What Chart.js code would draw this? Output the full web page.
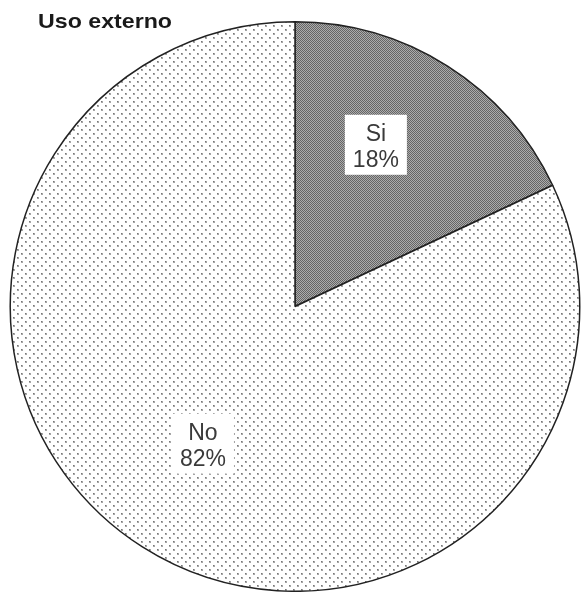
<!DOCTYPE html>
<html>
<head>
<meta charset="utf-8">
<script src="https://cdn.jsdelivr.net/npm/chart.js@4.4.0/dist/chart.umd.min.js"></script>
<style>
  html, body { margin: 0; padding: 0; background: #ffffff; }
  #wrap { width: 581px; height: 592px; position: relative; }
</style>
</head>
<body>
<div id="wrap"><canvas id="c" width="581" height="592"></canvas></div>
<script>
const chartTitle = "Uso externo";
const categories = ["Si", "No"];
const percentages = [18, 82];

// label placement within each slice (fraction of angular span, fraction of radius)
const labelPlacement = [{ a: 0.41, r: 0.635 }, { a: 0.505, r: 0.58 }];

function makeCheckerPattern() {
  const c = document.createElement("canvas");
  c.width = 2; c.height = 2;
  const x = c.getContext("2d");
  x.fillStyle = "#acacac"; x.fillRect(0, 0, 2, 2);
  x.fillStyle = "#656565"; x.fillRect(0, 0, 1, 1); x.fillRect(1, 1, 1, 1);
  return x.createPattern(c, "repeat");
}
function makeDotPattern() {
  const c = document.createElement("canvas");
  c.width = 8; c.height = 8;
  const x = c.getContext("2d");
  x.fillStyle = "#ffffff"; x.fillRect(0, 0, 8, 8);
  x.fillStyle = "#a6a6a6";
  x.fillRect(1, 1, 2, 2); x.fillRect(5, 5, 2, 2);
  x.fillStyle = "#777777";
  x.fillRect(1, 1, 1, 1); x.fillRect(5, 5, 1, 1);
  return x.createPattern(c, "repeat");
}

const titlePlugin = {
  id: "customTitle",
  afterDraw(chart) {
    const ctx = chart.ctx;
    ctx.save();
    ctx.fillStyle = "#1a1a1a";
    ctx.font = "bold 21px 'Liberation Sans Narrow', 'Liberation Sans', Arial, sans-serif";
    ctx.textBaseline = "middle";
    ctx.textAlign = "left";
    const w = ctx.measureText(chartTitle).width;
    const targetW = 134;
    ctx.translate(38, 22);
    ctx.scale(targetW / w, 1);
    ctx.fillText(chartTitle, 0, 0);
    ctx.restore();
  }
};

const labelPlugin = {
  id: "sliceLabels",
  afterDatasetsDraw(chart) {
    const ctx = chart.ctx;
    const meta = chart.getDatasetMeta(0);
    ctx.save();
    ctx.font = "23px 'Liberation Sans', Arial, sans-serif";
    ctx.textAlign = "center";
    ctx.textBaseline = "middle";
    meta.data.forEach((arc, i) => {
      const p = arc.getProps(["x", "y", "startAngle", "endAngle", "outerRadius"], true);
      const pl = labelPlacement[i];
      const ang = p.startAngle + (p.endAngle - p.startAngle) * pl.a;
      const r = p.outerRadius * pl.r;
      const cx = p.x + Math.cos(ang) * r;
      const cy = p.y + Math.sin(ang) * r;
      const l1 = categories[i];
      const l2 = percentages[i] + "%";
      const w = Math.max(ctx.measureText(l1).width, ctx.measureText(l2).width) + 16;
      const h = 60;
      ctx.fillStyle = "#ffffff";
      ctx.fillRect(cx - w / 2, cy - h / 2, w, h);
      ctx.fillStyle = "#3a3a3a";
      ctx.fillText(l1, cx, cy - 10);
      ctx.fillText(l2, cx, cy + 16);
    });
    ctx.restore();
  }
};

new Chart(document.getElementById("c"), {
  type: "pie",
  data: {
    labels: categories,
    datasets: [{
      data: percentages,
      backgroundColor: [makeCheckerPattern(), makeDotPattern()],
      borderColor: "#222222",
      borderWidth: 1.5
    }]
  },
  options: {
    responsive: false,
    animation: false,
    layout: { padding: { left: 9, top: 21, right: 0, bottom: 0 } },
    plugins: {
      legend: { display: false },
      tooltip: { enabled: false },
      title: { display: false }
    }
  },
  plugins: [titlePlugin, labelPlugin]
});
</script>
</body>
</html>
